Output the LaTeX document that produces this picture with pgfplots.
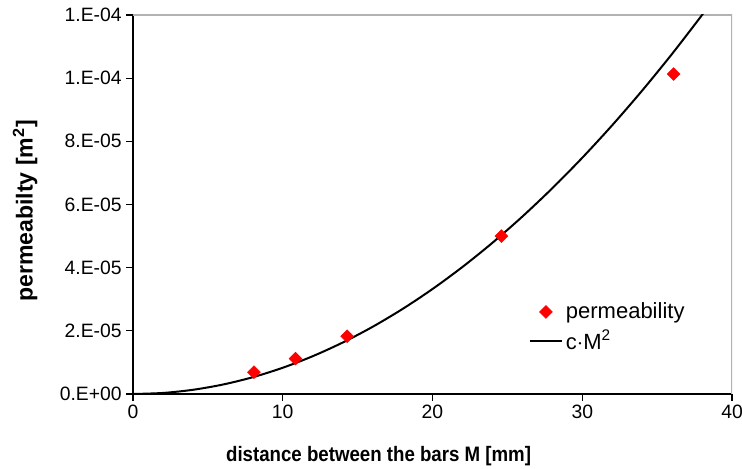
\documentclass[border=0pt]{standalone}
\usepackage{pgfplots}
\pgfplotsset{compat=1.18}
\usepackage{fontspec}
\setmainfont{Liberation Sans}
\begin{document}
\begin{tikzpicture}
\begin{axis}[
  scale only axis,
  width=449.25pt, height=284.25pt,
  xmin=0, xmax=40, ymin=0, ymax=1.2e-4,
  xtick={0,10,20,30,40},
  ytick={0,2e-5,4e-5,6e-5,8e-5,1e-4,1.2e-4},
  yticklabels={0.E+00,2.E-05,4.E-05,6.E-05,8.E-05,1.E-04,1.E-04},
  /pgf/number format/assume math mode=true,
  scaled y ticks=false,
  tick label style={font=\fontsize{14.5pt}{17pt}\selectfont},
  xlabel={\scalebox{1}[1.12]{distance between the bars M [mm]}},
  ylabel={permeabilty [m\textsuperscript{2}]},
  xlabel style={font=\bfseries\fontsize{14pt}{17pt}\selectfont,
    at={(axis description cs:0.41,-0.163)}, anchor=center},
  ylabel style={font=\bfseries\fontsize{17.3pt}{21pt}\selectfont,
    at={(axis description cs:-0.18,0.483)}, anchor=center},
  axis x line*=bottom, axis y line*=left,
  axis line style={black, line width=0.8pt, -},
  tick style={black, line width=0.8pt},
  tick align=outside,
  major tick length=5pt,
  xtick pos=bottom, ytick pos=left,
  legend style={draw=none, fill=none, at={(0.654,0.255)}, anchor=north west,
    font=\fontsize{16.5pt}{19pt}\selectfont, row sep=3pt,
    legend cell align=left},
  clip=true,
]
\draw[gray!60, line width=0.8pt] (rel axis cs:0,1) -- (rel axis cs:1,1) -- (rel axis cs:1,0);
\addplot[only marks, mark=square*, mark size=3.4pt, mark options={rotate=45, fill=red, draw=red}, color=red,
  legend image code/.code={\draw[draw=none] (0cm,0cm) -- (0.85cm,0cm); \draw[mark repeat=1] plot[mark=square*, mark size=3.4pt, mark options={rotate=45, fill=red, draw=red}] coordinates {(0.42cm,0cm)};}]
coordinates {
(8.08,6.9e-6)
(10.85,1.12e-5)
(14.3,1.83e-5)
(24.6,5.0e-5)
(36.1,1.013e-4)
};
\addlegendentry{permeability}
\addplot[black, line width=1.5pt, smooth,
  legend image code/.code={\draw[black, line width=1.5pt] (0cm,0cm) -- (0.85cm,0cm);}]
coordinates {
(0,0)
(2,3.324e-7)
(4,1.3296e-6)
(6,2.9916e-6)
(8,5.318e-6)
(10,8.31e-6)
(12,1.1966e-5)
(14,1.6288e-5)
(16,2.1274e-5)
(18,2.6924e-5)
(20,3.324e-5)
(22,4.022e-5)
(24,4.7866e-5)
(26,5.6176e-5)
(28,6.515e-5)
(30,7.479e-5)
(32,8.5094e-5)
(34,9.6064e-5)
(36,1.07698e-4)
(38,1.2e-4)
(39,1.264e-4)
};
\addlegendentry{c$\cdot$M\textsuperscript{2}}
\end{axis}
\pgfresetboundingbox
\path ([shift={(-99.75pt,-55.5pt)}]current axis.south west) rectangle ([shift={(7.5pt,11.25pt)}]current axis.north east);
\end{tikzpicture}
\end{document}
